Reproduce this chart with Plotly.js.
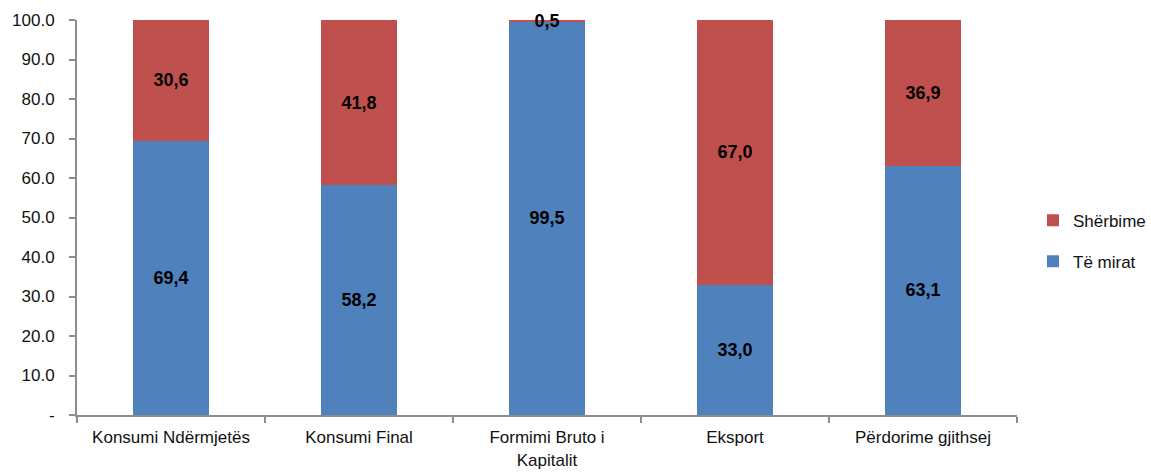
<!DOCTYPE html>
<html>
<head>
<meta charset="utf-8">
<script src="https://cdn.plot.ly/plotly-3.0.1.min.js"></script>
<style>html,body{margin:0;padding:0;background:#fff;}#chart{width:1151px;height:476px;}</style>
</head>
<body>
<div id="chart"></div>
<script>
const categories = ["Konsumi Ndërmjetës", "Konsumi Final", "Formimi Bruto i<br>Kapitalit", "Eksport", "Përdorime gjithsej"];
const teMirat = [69.4, 58.2, 99.5, 33.0, 63.1];
const sherbime = [30.6, 41.8, 0.5, 67.0, 36.9];
const yTickVals = [0, 10, 20, 30, 40, 50, 60, 70, 80, 90, 100];
const yTickText = ["-", "10.0", "20.0", "30.0", "40.0", "50.0", "60.0", "70.0", "80.0", "90.0", "100.0"];

const FONT = '"Liberation Sans", Arial, sans-serif';
const fmt = v => v.toFixed(1).replace('.', ',');

const traces = [
  {
    type: 'bar', name: 'Të mirat', x: categories, y: teMirat,
    marker: {color: '#4F81BD'},
    text: teMirat.map(fmt), textposition: 'inside', insidetextanchor: 'middle',
    textfont: {family: FONT, size: 18, color: '#000', weight: 'bold'},
    width: 0.4, legendgroup: 'b', legendrank: 2, hoverinfo: 'none'
  },
  {
    type: 'bar', name: 'Shërbime', x: categories, y: sherbime,
    marker: {color: '#C0504D'},
    text: sherbime.map(fmt), textposition: 'inside', insidetextanchor: 'middle',
    textfont: {family: FONT, size: 18, color: '#000', weight: 'bold'},
    width: 0.4, legendgroup: 'a', legendrank: 1, hoverinfo: 'none', cliponaxis: false
  }
];

const layout = {
  width: 1151, height: 476,
  margin: {l: 77, r: 134, t: 20, b: 61, pad: 0, autoexpand: false},
  barmode: 'stack',
  paper_bgcolor: '#fff', plot_bgcolor: '#fff',
  font: {family: FONT, size: 17, color: '#111'},
  uniformtext: {mode: 'show', minsize: 18},
  showlegend: true,
  legend: {
    xref: 'container', x: 1.0, xanchor: 'right', y: 0.44, yanchor: 'middle',
    traceorder: 'grouped', tracegroupgap: 16,
    font: {family: FONT, size: 17, color: '#111'},
    bgcolor: 'rgba(0,0,0,0)', borderwidth: 0
  },
  xaxis: {
    type: 'category',
    showline: true, linecolor: '#8c8c8c', linewidth: 2,
    ticks: 'outside', tickson: 'boundaries', ticklen: 6, tickcolor: '#8c8c8c', tickwidth: 2,
    showgrid: false, zeroline: false, tickangle: 0,
    tickfont: {family: FONT, size: 17, color: '#111'},
    ticklabelstandoff: 6
  },
  yaxis: {
    range: [0, 100], fixedrange: true,
    tickvals: yTickVals, ticktext: yTickText,
    showline: true, linecolor: '#8c8c8c', linewidth: 2,
    ticks: 'outside', ticklen: 6, tickcolor: '#8c8c8c', tickwidth: 2,
    showgrid: false, zeroline: false,
    tickfont: {family: FONT, size: 17, color: '#111'},
    ticklabelstandoff: 11
  }
};

Plotly.newPlot('chart', traces, layout, {staticPlot: true, displayModeBar: false});
</script>
</body>
</html>
